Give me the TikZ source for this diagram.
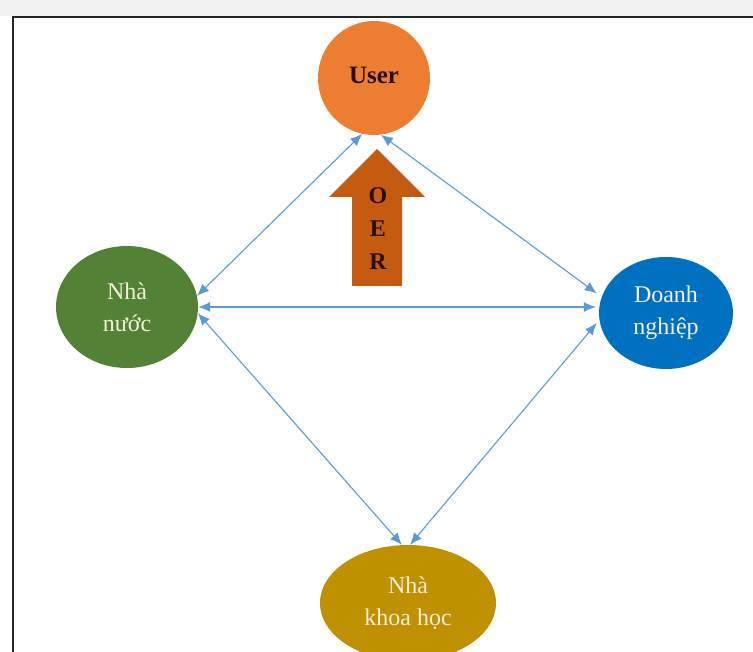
\documentclass[tikz,border=0pt]{standalone}
\usepackage{fontspec}
\setmainfont{Liberation Serif}
\usetikzlibrary{arrows.meta,shapes.geometric,calc}
\definecolor{userfill}{HTML}{ED7D31}
\definecolor{oerfill}{HTML}{C55A11}
\definecolor{greenfill}{HTML}{538135}
\definecolor{bluefill}{HTML}{0070C0}
\definecolor{goldfill}{HTML}{BF9000}
\definecolor{conncol}{HTML}{5B9BD5}
\definecolor{lighttext}{HTML}{F4EFD9}
\definecolor{darktext}{HTML}{241005}
\definecolor{bggray}{HTML}{F2F2F2}
\begin{document}
\begin{tikzpicture}[x=1pt,y=-1pt,
  blob/.style={ellipse,inner sep=0pt,draw=none,align=center,
    font=\fontsize{24}{32}\selectfont,text=lighttext},
  conn/.style={draw=conncol,line width=1.1pt,
    {Latex[length=12pt,width=10pt]}-{Latex[length=12pt,width=10pt]}}]
\useasboundingbox (0,0) rectangle (753,652);
\fill[white] (0,0) rectangle (753,652);
\fill[bggray] (0,0) rectangle (753,16);
\draw[line width=1.8pt,black!85] (753,17) -- (13,17) -- (13,652);
\begin{scope}
\clip (14,18) rectangle (753,652);
\node[blob,fill=userfill,minimum width=112pt,minimum height=114pt,
  text=darktext,font=\bfseries\fontsize{25}{30}\selectfont] (user) at (374,78) {\raisebox{6pt}{User}};
\node[blob,fill=greenfill,minimum width=142pt,minimum height=122pt] (nn) at (127,307) {Nhà\\nước};
\node[blob,fill=bluefill,minimum width=134pt,minimum height=112pt] (dn) at (666,313) {Doanh\\nghiệp};
\node[blob,fill=goldfill,minimum width=176pt,minimum height=116pt] (kh) at (408,603) {Nhà\\khoa học};
\end{scope}
\fill[oerfill] (377,149) -- (425,197) -- (402,197) -- (402,286) -- (352,286) -- (352,197) -- (329,197) -- cycle;
\node[align=center,text=darktext,font=\bfseries\fontsize{24}{33}\selectfont] (oer) at (378,229) {O\\E\\R};
\draw[conn] (user.258) -- (nn.9);
\draw[conn,shorten >=6pt] (user.277) -- (dn.166);
\draw[conn,shorten >=3pt] (nn.east) -- (nn.east -| dn.west);
\draw[conn] (nn.355) -- (kh.96);
\draw[conn,shorten <=4pt] (dn.186) -- (kh.88);
\end{tikzpicture}
\end{document}
